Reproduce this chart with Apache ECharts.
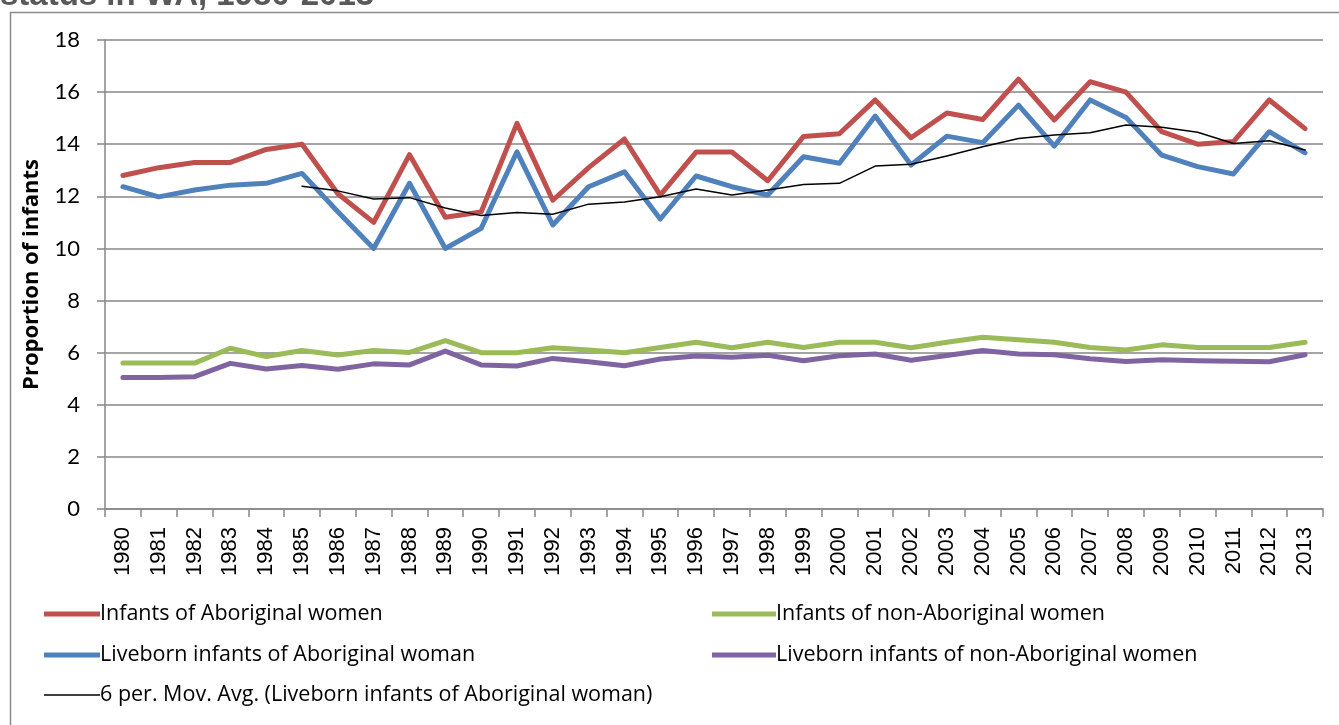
<!DOCTYPE html>
<html>
<head>
<meta charset="utf-8">
<style>
  html, body { margin: 0; padding: 0; background: #fff; }
  #chart { width: 1339px; height: 725px; }
</style>
<script src="https://cdn.jsdelivr.net/npm/echarts@6.0.0/dist/echarts.min.js"></script>
</head>
<body>
<div id="chart"></div>
<script>
const years = ['1980', '1981', '1982', '1983', '1984', '1985', '1986', '1987', '1988', '1989',
  '1990', '1991', '1992', '1993', '1994', '1995', '1996', '1997', '1998', '1999',
  '2000', '2001', '2002', '2003', '2004', '2005', '2006', '2007', '2008', '2009',
  '2010', '2011', '2012', '2013']

const aboriginal = [12.8, 13.1, 13.3, 13.3, 13.8, 14.0, 12.1, 11.0, 13.6, 11.2,
  11.4, 14.8, 11.85, 13.1, 14.2, 12.05, 13.7, 13.7, 12.6, 14.3,
  14.4, 15.7, 14.25, 15.2, 14.95, 16.5, 14.93, 16.4, 16.0, 14.48,
  14.0, 14.1, 15.7, 14.6]

const nonAboriginal = [5.6, 5.6, 5.6, 6.17, 5.85, 6.08, 5.91, 6.08, 6.01, 6.46,
  6.0, 6.0, 6.19, 6.1, 6.0, 6.2, 6.4, 6.19, 6.4, 6.2,
  6.4, 6.4, 6.19, 6.4, 6.59, 6.5, 6.4, 6.2, 6.1, 6.3,
  6.2, 6.2, 6.2, 6.4]

const liveAboriginal = [12.37, 11.98, 12.24, 12.43, 12.5, 12.88, 11.41, 10.0, 12.5, 10.0,
  10.77, 13.71, 10.9, 12.37, 12.94, 11.13, 12.78, 12.37, 12.05, 13.52,
  13.27, 15.08, 13.2, 14.31, 14.06, 15.5, 13.93, 15.7, 15.03, 13.58,
  13.14, 12.86, 14.48, 13.67]

const liveNonAboriginal = [5.05, 5.05, 5.08, 5.59, 5.37, 5.51, 5.36, 5.57, 5.53, 6.06,
  5.53, 5.49, 5.78, 5.65, 5.5, 5.76, 5.87, 5.82, 5.9, 5.69,
  5.88, 5.95, 5.71, 5.89, 6.08, 5.95, 5.92, 5.77, 5.66, 5.73,
  5.69, 5.67, 5.65, 5.92]

// 6 period moving average (starts at 1985)
const movAvg = [null, null, null, null, null, 12.39, 12.21, 11.9, 11.95, 11.55,
  11.26, 11.38, 11.31, 11.7, 11.78, 11.98, 12.28, 12.05, 12.24, 12.45,
  12.5, 13.16, 13.23, 13.55, 13.9, 14.22, 14.35, 14.44, 14.74, 14.65,
  14.46, 14.03, 14.13, 13.78]

const yTicks = { min: 0, max: 18, interval: 2 }

const gridGray = '#868686'
const labelFont = 'Lato, "Open Sans", sans-serif'
const legendFont = '"Open Sans", sans-serif'

const chart = echarts.init(document.getElementById('chart'))

const lineSeries = (name, data, color, width) => ({
  name,
  type: 'line',
  data,
  symbol: 'none',
  lineStyle: { color, width, cap: 'round', join: 'round' },
  itemStyle: { color },
  emphasis: { disabled: true },
})

const legendBlock = (left, top, itemWidth, itemHeight, data) => ({
  orient: 'vertical',
  left,
  top,
  padding: 0,
  icon: 'rect',
  itemWidth,
  itemHeight,
  itemGap: 19,
  selectedMode: false,
  data,
  textStyle: { color: '#000', fontSize: 21.5, fontFamily: legendFont, padding: [0, 0, 0, -5] },
})

chart.setOption({
  animation: false,
  backgroundColor: '#fff',
  graphic: [
    {
      type: 'rect',
      shape: { x: 10.5, y: 12.5, width: 1500, height: 900 },
      style: { fill: 'none', stroke: '#8a8a8a', lineWidth: 1.5 },
      silent: true,
    },
    {
      type: 'text',
      x: 0,
      y: -4,
      style: {
        text: 'status in WA, 1980-2013',
        font: 'bold 33px "Liberation Sans", Arial, sans-serif',
        fill: '#595959',
        verticalAlign: 'middle',
      },
      silent: true,
    },
  ],
  legend: [
    legendBlock(44, 603, 56, 5, ['Infants of Aboriginal women', 'Liveborn infants of Aboriginal woman']),
    legendBlock(712, 603, 64, 5, ['Infants of non-Aboriginal women', 'Liveborn infants of non-Aboriginal women']),
    legendBlock(44, 684, 56, 1.5, ['6 per. Mov. Avg. (Liveborn infants of Aboriginal woman)']),
  ],
  grid: {
    left: 105,
    right: 16,
    top: 40,
    bottom: 216,
    containLabel: false,
  },
  xAxis: {
    type: 'category',
    data: years,
    boundaryGap: true,
    axisLine: { show: true, lineStyle: { color: gridGray, width: 1.5 } },
    axisTick: { show: true, length: 8, lineStyle: { color: gridGray, width: 1.5 } },
    axisLabel: {
      rotate: 90,
      interval: 0,
      margin: 18,
      color: '#000',
      fontSize: 22,
      fontFamily: '"Liberation Sans", Arial, sans-serif',
    },
    splitLine: { show: false },
  },
  yAxis: {
    type: 'value',
    min: yTicks.min,
    max: yTicks.max,
    interval: yTicks.interval,
    name: 'Proportion of infants',
    nameLocation: 'middle',
    nameGap: 62,
    nameTextStyle: { color: '#000', fontSize: 22, fontWeight: 'bold', fontFamily: '"Open Sans", sans-serif' },
    axisLine: { show: true, lineStyle: { color: gridGray, width: 1.5 } },
    axisTick: { show: true, length: 8, lineStyle: { color: gridGray, width: 1.5 } },
    axisLabel: { color: '#000', fontSize: 22, margin: 25, fontFamily: labelFont },
    splitLine: { show: true, lineStyle: { color: gridGray, width: 1.5 } },
  },
  series: [
    lineSeries('Infants of Aboriginal women', aboriginal, '#C0504D', 5),
    lineSeries('Infants of non-Aboriginal women', nonAboriginal, '#9BBB59', 5),
    lineSeries('Liveborn infants of Aboriginal woman', liveAboriginal, '#4F81BD', 5),
    lineSeries('Liveborn infants of non-Aboriginal women', liveNonAboriginal, '#8064A2', 5),
    lineSeries('6 per. Mov. Avg. (Liveborn infants of Aboriginal woman)', movAvg, '#000000', 1.5),
  ],
})
</script>
</body>
</html>
